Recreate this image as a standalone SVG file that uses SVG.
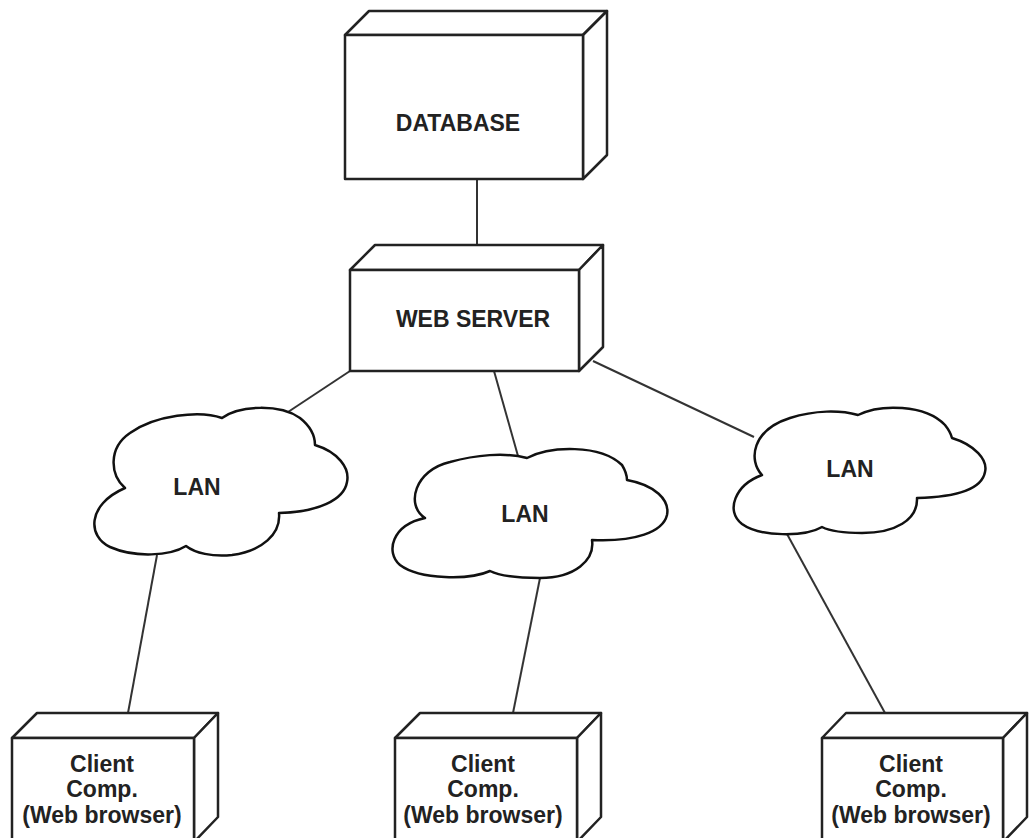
<svg xmlns="http://www.w3.org/2000/svg" width="1030" height="838" viewBox="0 0 1030 838">
<style>
.box{fill:#fff;stroke:#222;stroke-width:2.5;stroke-linejoin:round}
.cloud{fill:#fff;stroke:#111;stroke-width:2.5;stroke-linejoin:round}
.conn{stroke:#333;stroke-width:2;fill:none}
.t{font-family:"Liberation Sans",Arial,sans-serif;font-weight:bold;font-size:23px;fill:#222;text-anchor:middle}
</style>
<rect width="1030" height="838" fill="#fff"/>
<g id="connectors">
<line class="conn" x1="477" y1="179" x2="477" y2="245"/>
<line class="conn" x1="350" y1="371" x2="285" y2="414"/>
<line class="conn" x1="494" y1="371" x2="518" y2="456"/>
<line class="conn" x1="593" y1="361" x2="754" y2="437"/>
<line class="conn" x1="157" y1="555" x2="128" y2="713"/>
<line class="conn" x1="540" y1="578" x2="513" y2="713"/>
<line class="conn" x1="787" y1="534" x2="885" y2="713"/>
</g>
<g id="database">
<polygon class="box" points="345,35 369,11 607,11 583,35"/>
<polygon class="box" points="583,35 607,11 607,155 583,179"/>
<rect class="box" x="345" y="35" width="238" height="144"/>
<text class="t" x="458" y="131">DATABASE</text>
</g>
<g id="webserver">
<polygon class="box" points="350,270 375,245 603,245 579,270"/>
<polygon class="box" points="579,270 603,245 603,347 579,371"/>
<rect class="box" x="350" y="270" width="229" height="101"/>
<text class="t" x="473" y="327">WEB SERVER</text>
</g>
<g id="lan1">
<path class="cloud" d="M125,488 C110,475 108,448 130,433 C155,415 200,410 222,418 C240,405 280,404 300,418 C310,426 315,436 315,445 C338,452 350,468 347,482 C344,500 318,512 279,513 C281,534 262,551 232,555 C212,557 195,553 186,546 C170,556 135,558 110,547 C88,537 86,505 125,488 Z"/>
<text class="t" x="197" y="495">LAN</text>
</g>
<g id="lan2">
<path class="cloud" d="M425,518 C405,505 415,470 450,462 C475,455 505,452 527,458 C550,446 600,444 622,465 C625,470 627,476 627,480 C655,485 670,500 667,515 C663,532 635,542 592,540 C595,560 575,578 540,578 C520,578 500,576 490,571 C470,580 420,580 400,565 C385,552 392,525 425,518 Z"/>
<text class="t" x="525" y="522">LAN</text>
</g>
<g id="lan3">
<path class="cloud" d="M762,475 C748,460 752,430 790,418 C815,410 840,410 858,415 C880,404 925,404 945,425 C949,430 951,434 952,438 C975,445 988,460 985,472 C982,488 960,497 917,498 C918,520 895,533 862,533 C845,533 830,531 822,527 C805,537 760,537 742,524 C725,511 735,485 762,475 Z"/>
<text class="t" x="850" y="477">LAN</text>
</g>
<g id="client1">
<polygon class="box" points="12,738 37,713 218,713 194,738"/>
<polygon class="box" points="194,738 218,713 218,817 194,842"/>
<rect class="box" x="12" y="738" width="182" height="104"/>
<text class="t" x="102" y="772">Client</text>
<text class="t" x="102" y="797">Comp.</text>
<text class="t" x="102" y="823">(Web browser)</text>
</g>
<g id="client2">
<polygon class="box" points="395,738 420,713 601,713 577,738"/>
<polygon class="box" points="577,738 601,713 601,817 577,842"/>
<rect class="box" x="395" y="738" width="182" height="104"/>
<text class="t" x="483" y="772">Client</text>
<text class="t" x="483" y="797">Comp.</text>
<text class="t" x="483" y="823">(Web browser)</text>
</g>
<g id="client3">
<polygon class="box" points="822,738 846,713 1027,713 1003,738"/>
<polygon class="box" points="1003,738 1027,713 1027,817 1003,842"/>
<rect class="box" x="822" y="738" width="181" height="104"/>
<text class="t" x="911" y="772">Client</text>
<text class="t" x="911" y="797">Comp.</text>
<text class="t" x="911" y="823">(Web browser)</text>
</g>
</svg>
